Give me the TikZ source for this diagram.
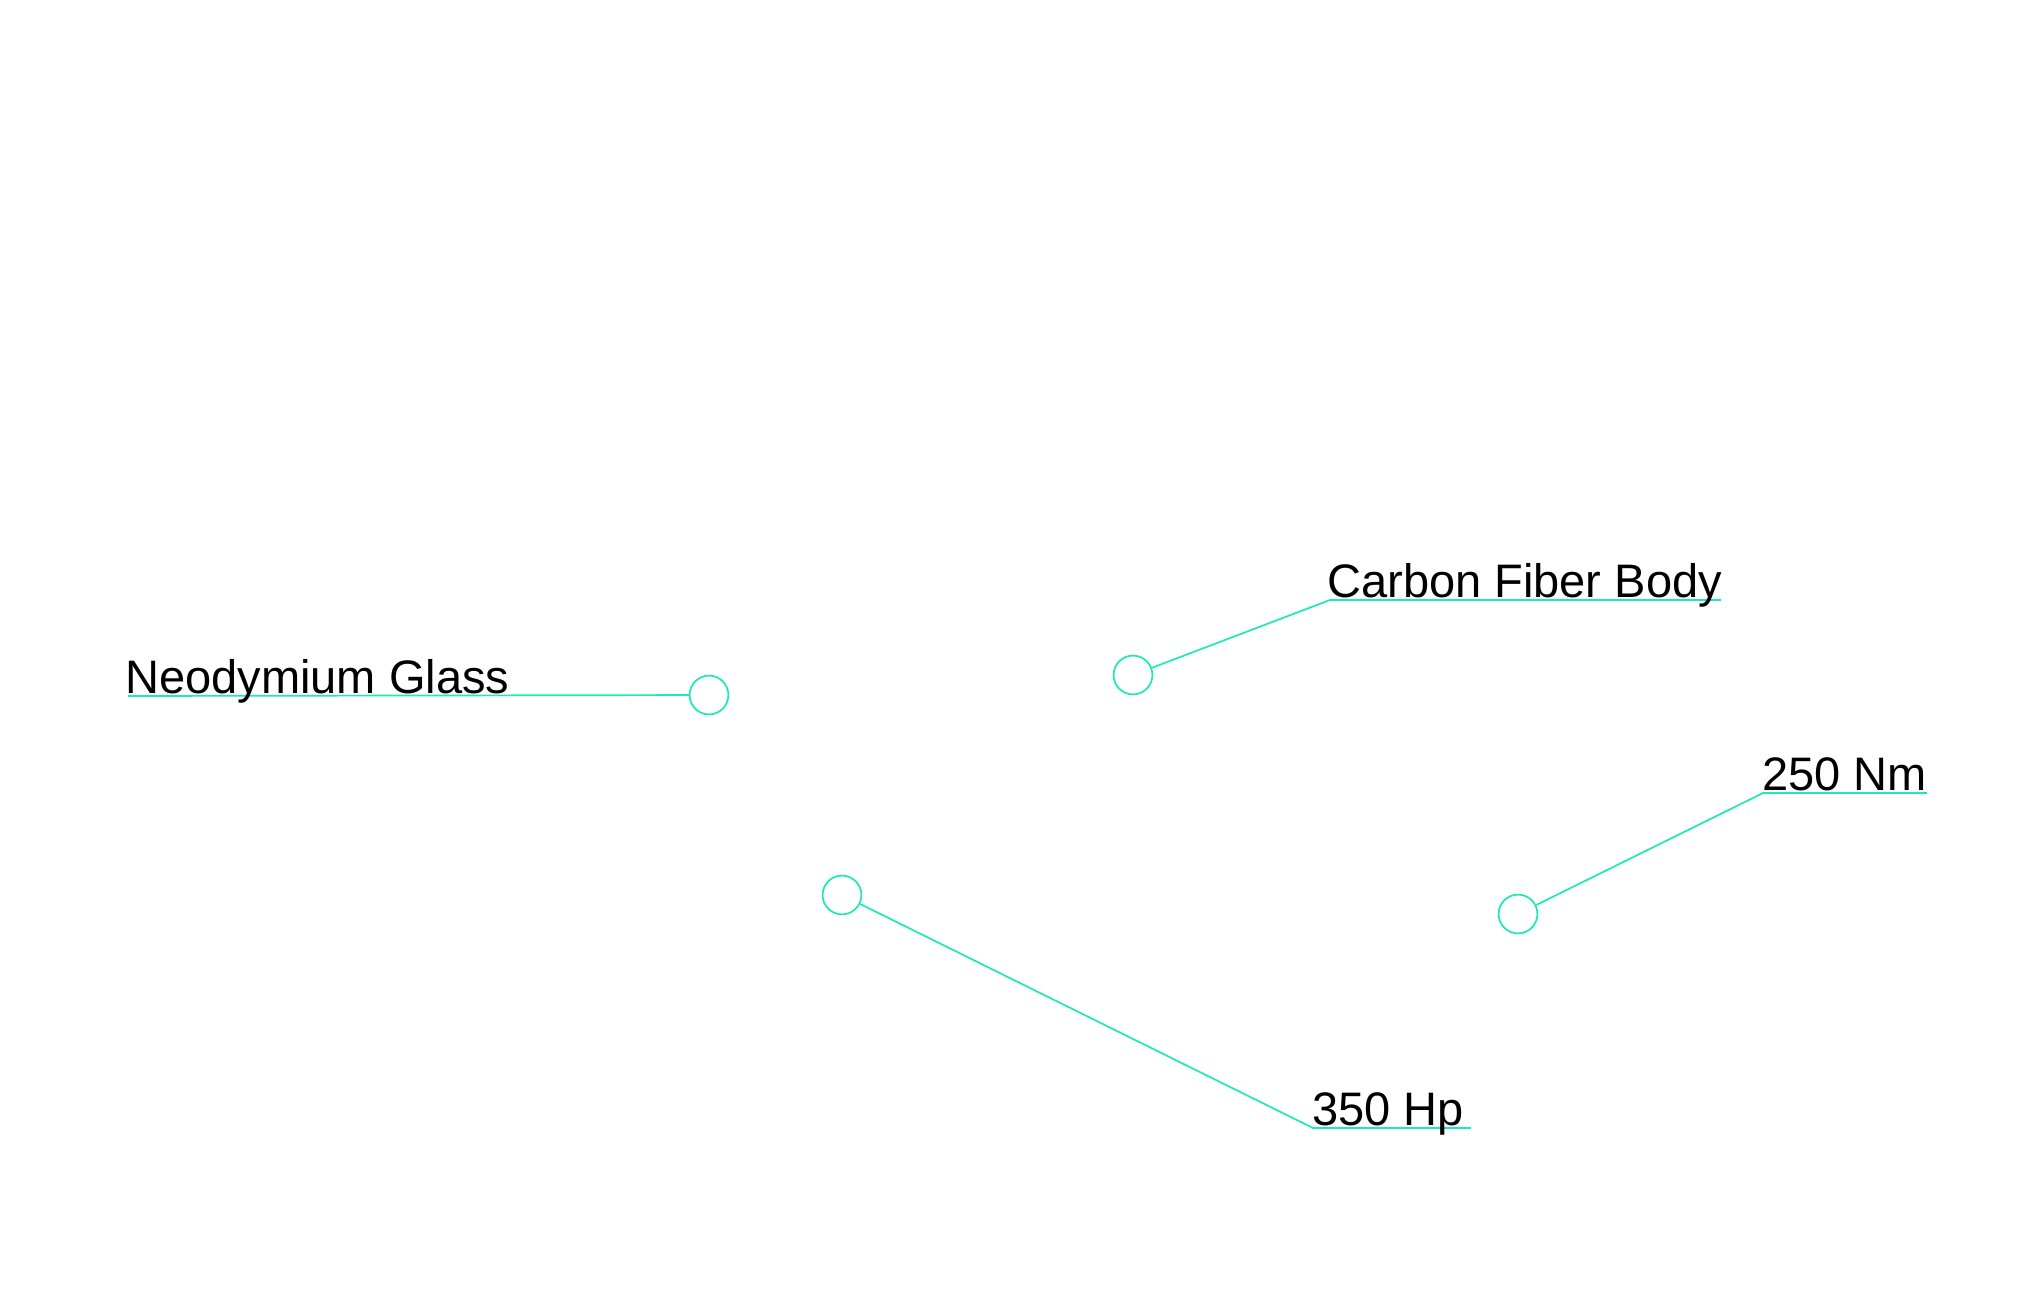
\documentclass[tikz,border=0pt]{standalone}
\usepackage{fontspec}
\setmainfont{Liberation Sans}
\usetikzlibrary{positioning}
\definecolor{callout}{RGB}{29,233,182}
\tikzset{
	pin/.style={draw=callout, line width=0.85pt, circle, minimum size=19.4pt, inner sep=0pt},
	lead/.style={draw=callout, line width=0.85pt},
	tag/.style={anchor=base west, inner sep=0pt, font=\fontsize{23.5}{28}\selectfont}
}
\begin{document}
\begin{tikzpicture}[x=0.5pt,y=-0.5pt]
		\useasboundingbox (0,0) rectangle (2028,1290);
		% points on the picture
		\node[pin] (glass) at (709,695) {};
		\node[pin] (body) at (1133,675) {};
		\node[pin] (torque) at (1518,914) {};
		\node[pin] (power) at (842,895) {};
		% elbows and ends of the leaders
		\coordinate (glassend) at (128,696);
		\coordinate (bodyknee) at (1330,600);
		\coordinate (bodyend) at (1721,600);
		\coordinate (torqueknee) at (1763,793);
		\coordinate (torqueend) at (1927,793);
		\coordinate (powerknee) at (1313,1128);
		\coordinate (powerend) at (1471,1128);
		\draw[lead](glass) -- (glassend);
		\draw[lead](body) -- (bodyknee) -- (bodyend);
		\draw[lead](torque) -- (torqueknee) -- (torqueend);
		\draw[lead](power) -- (powerknee) -- (powerend);
		% labels
		\node[tag] (glasstext) at (125,693) {Neodymium Glass};
		\node[tag] (bodytext) at (1327,597) {Carbon Fiber Body};
		\node[tag] (torquetext) at (1762,790) {250 Nm};
		\node[tag] (powertext) at (1312,1125) {350 Hp};
	\end{tikzpicture}
\end{document}
